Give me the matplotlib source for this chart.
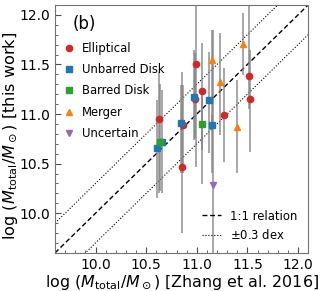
import numpy as np
import matplotlib
matplotlib.use("Agg")
import matplotlib.pyplot as plt
from matplotlib.ticker import MultipleLocator

# Zhang et al. 2016 mass (x), this work (y), error bar limits (lo, hi)
ell_x = [10.63, 10.86, 10.98, 10.99, 11.05, 11.27, 11.52, 11.53, 10.85]
ell_y = [10.95, 10.89, 11.15, 11.50, 11.23, 10.99, 11.38, 11.15, 10.47]
ell_lo = [10.20, 10.41, 10.76, 10.47, 10.64, 10.52, 11.05, 10.62, 9.80]
ell_hi = [11.42, 11.29, 11.62, 12.30, 11.72, 11.46, 12.20, 11.65, 11.42]

unb_x = [10.84, 10.97, 11.12, 11.15, 10.66, 10.61]
unb_y = [10.91, 11.17, 11.14, 10.89, 10.72, 10.655]
unb_lo = [10.41, 10.74, 10.61, 10.41, 10.20, 10.15]
unb_hi = [11.29, 11.65, 11.63, 10.99, 11.24, 11.14]

bar_x = [11.05, 10.64]
bar_y = [10.90, 10.72]
bar_lo = [10.29, 10.22]
bar_hi = [11.24, 11.30]

mer_x = [11.15, 11.23, 11.40, 11.46]
mer_y = [11.54, 11.32, 10.87, 11.71]
mer_lo = [10.90, 10.79, 10.41, 11.39]
mer_hi = [11.85, 11.82, 11.34, 12.02]

unc_x = [11.16]
unc_y = [10.28]
unc_lo = [9.0]
unc_hi = [11.85]

groups = [
    ("Elliptical", ell_x, ell_y, ell_lo, ell_hi, "o", "#d62728"),
    ("Unbarred Disk", unb_x, unb_y, unb_lo, unb_hi, "s", "#1f77b4"),
    ("Barred Disk", bar_x, bar_y, bar_lo, bar_hi, "s", "#2ca02c"),
    ("Merger", mer_x, mer_y, mer_lo, mer_hi, "^", "#ff7f0e"),
    ("Uncertain", unc_x, unc_y, unc_lo, unc_hi, "v", "#9467bd"),
]

fig = plt.figure(figsize=(3.2, 2.91), dpi=100)
ax = fig.add_axes([0.172, 0.131, 0.791, 0.852])

lim = (9.6, 12.1)

# error bars first, then markers on top
for name, x, y, lo, hi, m, c in groups:
    x = np.array(x); y = np.array(y)
    err = [y - np.array(lo), np.array(hi) - y]
    ax.errorbar(x, y, yerr=err, fmt="none", ecolor="0.5", elinewidth=1.3,
                alpha=0.75, zorder=2)

handles = []
for name, x, y, lo, hi, m, c in groups:
    h, = ax.plot(x, y, m, color=c, ms=4.5, ls="none", label=name, zorder=3)
    handles.append(h)

xx = np.array(lim)
l1, = ax.plot(xx, xx, "k--", lw=1.0, dashes=(3.5, 2), label="1:1 relation", zorder=1)
l2, = ax.plot(xx, xx + 0.3, "k:", lw=0.8, label=r"$\pm$0.3 dex", zorder=1)
ax.plot(xx, xx - 0.3, "k:", lw=0.8, zorder=1)

ax.set_xlim(lim)
ax.set_ylim(lim)

leg1 = ax.legend(handles=handles, loc="upper left", frameon=False, fontsize=8.4,
                 handlelength=1.0, handletextpad=0.6, labelspacing=0.72,
                 bbox_to_anchor=(0.0, 0.885), borderaxespad=0.3)
ax.add_artist(leg1)
ax.legend(handles=[l1, l2], loc="lower right", frameon=False, fontsize=8.4,
          handlelength=1.6, handletextpad=0.8, labelspacing=0.5)

ax.text(0.07, 0.925, "(b)", transform=ax.transAxes, fontsize=12, va="center")

ax.xaxis.set_major_locator(MultipleLocator(0.5))
ax.xaxis.set_minor_locator(MultipleLocator(0.1))
ax.yaxis.set_major_locator(MultipleLocator(0.5))
ax.yaxis.set_minor_locator(MultipleLocator(0.1))
ax.tick_params(which="both", direction="in", labelsize=10, color="0.3")
ax.tick_params(which="major", length=4)
ax.tick_params(which="minor", length=2)
for s in ax.spines.values():
    s.set_color("0.45")

ax.set_xlabel(r"$\log\,(M_{\rm total}/M_\odot)$ [Zhang et al. 2016]", fontsize=11.4, labelpad=1)
ax.set_ylabel(r"$\log\,(M_{\rm total}/M_\odot)$ [this work]", fontsize=11.6, labelpad=2)
ax.yaxis.set_label_coords(-0.14, 0.47)

fig.savefig("out.png", dpi=100)
